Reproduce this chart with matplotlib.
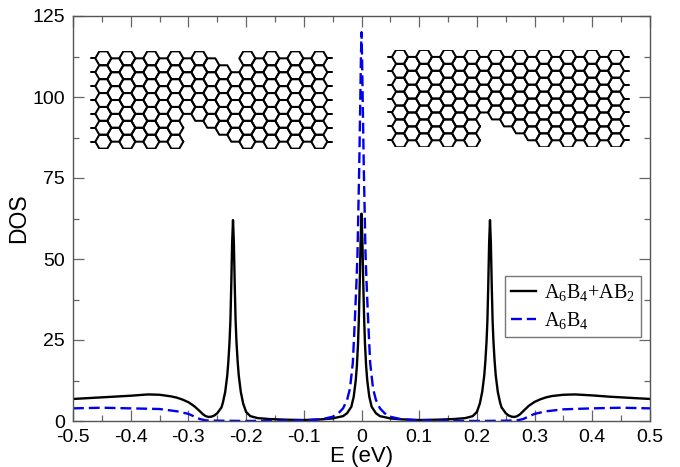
# DOS of the two ribbon systems, with the lattice sketches on top
import matplotlib
matplotlib.use('Agg')
import matplotlib.pyplot as plt
from matplotlib.collections import LineCollection
import numpy as np

plt.rcParams['font.family'] = ['Liberation Sans', 'DejaVu Sans']
plt.rcParams['mathtext.fontset'] = 'custom'
plt.rcParams['mathtext.rm'] = 'Liberation Serif'

E_full = [-0.5, -0.46, -0.43, -0.4, -0.37, -0.35, -0.33, -0.32, -0.31, -0.3, -0.29, -0.28,
          -0.275, -0.27, -0.265, -0.26, -0.255, -0.25, -0.2427, -0.2403, -0.2362, -0.2327,
          -0.2307, -0.2287, -0.2272, -0.2257, -0.2242, -0.2227,
          -0.2212, -0.2197, -0.2182, -0.2167, -0.2147, -0.2127, -0.2092, -0.2051, -0.2, -0.1927,
          -0.18, -0.16, -0.13, -0.1, -0.07, -0.05, -0.032, -0.025, -0.0176, -0.0135, -0.01,
          -0.008, -0.006, -0.0045, -0.003, -0.0015, 0.0,
          0.0015, 0.003, 0.0045, 0.006, 0.008, 0.01, 0.0135, 0.0176, 0.025, 0.032, 0.05,
          0.07, 0.1, 0.13, 0.16, 0.18, 0.1927, 0.2, 0.2051, 0.2092, 0.2127, 0.2147, 0.2167,
          0.2182, 0.2197, 0.2212, 0.2227,
          0.2242, 0.2257, 0.2272, 0.2287, 0.2307, 0.2327, 0.2362, 0.2403, 0.2427, 0.25,
          0.255, 0.26, 0.265, 0.27, 0.275, 0.28, 0.29, 0.3, 0.31, 0.32, 0.33, 0.35, 0.37,
          0.4, 0.43, 0.46, 0.5]
DOS_full = [6.8, 7.2, 7.5, 7.8, 8.2, 8.1, 7.6, 7.2, 6.6, 5.8, 4.6, 3.0,
            2.1, 1.5, 1.25, 1.35, 1.7, 2.4, 4.2, 5.6, 9.0, 14,
            18.5, 24.5, 31, 42, 55, 62,
            55, 42, 31, 24.5, 18.5, 14, 9.0, 5.4, 2.8, 1.5,
            0.9, 0.6, 0.4, 0.3, 0.5, 0.8, 1.5, 2.4, 4.4, 7.5, 12.5,
            17, 24, 32, 43, 56, 64,
            56, 43, 32, 24, 17, 12.5, 7.5, 4.4, 2.4, 1.5, 0.8,
            0.5, 0.3, 0.4, 0.6, 0.9, 1.5, 2.8, 5.4, 9.0, 14, 18.5, 24.5,
            31, 42, 55, 62,
            55, 42, 31, 24.5, 18.5, 14, 9.0, 5.6, 4.2, 2.4,
            1.7, 1.35, 1.25, 1.5, 2.1, 3.0, 4.7, 5.9, 6.7, 7.3, 7.7, 8.1, 8.2,
            7.9, 7.5, 7.2, 6.8]

E_bare = [-0.5, -0.45, -0.4, -0.35, -0.32, -0.3, -0.29, -0.28, -0.27, -0.25, -0.2,
          -0.15, -0.1, -0.07, -0.05, -0.04, -0.032, -0.025, -0.02, -0.015, -0.0113, -0.0087,
          -0.0069, -0.004, -0.002, -0.001, 0.0, 0.001, 0.002, 0.004, 0.0069, 0.0087, 0.0113,
          0.015, 0.02, 0.025, 0.032, 0.04, 0.05, 0.07, 0.1, 0.15, 0.2, 0.25, 0.27, 0.28, 0.29,
          0.3, 0.32, 0.35, 0.4, 0.45, 0.5]
DOS_bare = [3.9, 4.1, 3.9, 3.7, 3.0, 2.2, 1.4, 0.6, 0.2, 0.1, 0.0,
            0.1, 0.2, 0.5, 1.3, 2.4, 3.9, 6.5, 10, 18, 32, 43,
            52, 78, 100, 112, 120, 112, 100, 78, 52, 43, 32,
            18, 10, 6.5, 3.9, 2.4, 1.3, 0.5, 0.2, 0.1, 0.0, 0.1, 0.2, 0.6, 1.4,
            2.2, 3.0, 3.6, 3.9, 4.1, 3.9]

x_ticks = [-0.5, -0.4, -0.3, -0.2, -0.1, 0, 0.1, 0.2, 0.3, 0.4, 0.5]
x_labels = ['-0.5', '-0.4', '-0.3', '-0.2', '-0.1', '0', '0.1', '0.2', '0.3', '0.4', '0.5']
y_ticks = [0, 25, 50, 75, 100, 125]

# lattice sketches: first and last half-row of the hexagons in each column
left_first = [0, 1, 0, 1, 0, 1, 0, 1, 0, 1, 2, 3, 0, 1, 0, 1, 0, 1, 0]
left_last = [12, 11, 12, 11, 12, 11, 12, 7, 8, 9, 10, 11, 12, 11, 12, 11, 12, 11, 12]
right_first = [0, 1, 0, 1, 0, 1, 0, 1, 0, 1, 0, 1, 0, 1, 0, 1, 0, 1, 0]
right_last = [12, 11, 12, 11, 12, 11, 12, 7, 8, 9, 10, 11, 12, 11, 12, 11, 12, 11, 12]

W, H = 680, 467


def add_lattice(fig, first, last, left_px, top_px):
    # inset in pixel units, edge a = 8 px, rows 13.9 px apart
    a = 8.0
    h = 13.9
    ncol = len(first)
    box_w = a * 1.5 * (ncol - 1) + 2 * a + 12
    box_h = h * 7
    ins = fig.add_axes([(left_px - a - 5) / W, 1 - (top_px + box_h - h / 2) / H,
                        box_w / W, box_h / H])
    ins.set_xlim(-a - 5, box_w - a - 5)
    ins.set_ylim(box_h - h / 2, -h / 2)
    ins.axis('off')
    segs = []
    for k in range(ncol):
        cx = k * 1.5 * a
        for r in range(first[k], last[k] + 1, 2):
            cy = r * h / 2
            pts = [(cx + a * np.cos(np.radians(t)), cy + a * np.sin(np.radians(t)))
                   for t in range(0, 361, 60)]
            segs.append(pts)
    # short stubs at both ends of the ribbon
    for r in range(0, 13, 2):
        cy = r * h / 2
        segs.append([(-a - 4, cy), (-a, cy)])
        segs.append([((ncol - 1) * 1.5 * a + a, cy), ((ncol - 1) * 1.5 * a + a + 5, cy)])
    ins.add_collection(LineCollection(segs, colors='black', linewidths=1.45,
                                      capstyle='round', joinstyle='round'))


fig = plt.figure(figsize=(6.8, 4.67), dpi=100)
ax = fig.add_axes([73 / W, 1 - 421 / H, 577 / W, 405 / H])

ax.plot(E_full, DOS_full, color='black', lw=1.7, label=r'$\mathrm{A_6B_4{+}AB_2}$')
ax.plot(E_bare, DOS_bare, color='#0000ee', lw=1.7, dashes=(4.6, 2.1), label=r'$\mathrm{A_6B_4}$')

ax.set_xlim(-0.5, 0.5)
ax.set_ylim(0, 125)
ax.set_xticks(x_ticks)
ax.set_xticklabels(x_labels)
ax.set_yticks(y_ticks)
ax.set_xticks(np.arange(-0.45, 0.5, 0.1), minor=True)
ax.set_yticks(np.arange(12.5, 125, 25), minor=True)
ax.tick_params(which='major', direction='in', top=True, right=True, length=8, width=0.9,
               color='#666666', labelsize=14, pad=6)
ax.tick_params(which='minor', direction='in', top=True, right=True, length=4.5, width=0.9,
               color='#666666')
for s in ax.spines.values():
    s.set_color('#555555')
    s.set_linewidth(1.0)

ax.set_xlabel('E (eV)', fontsize=16, labelpad=0)
ax.set_ylabel('DOS', fontsize=16.5, labelpad=1.5)

leg = ax.legend(loc='upper left', bbox_to_anchor=((505 - 73) / 577, (421 - 276) / 405),
                borderaxespad=0, fontsize=14.5, frameon=True, fancybox=False, framealpha=1,
                edgecolor='#777777', handlelength=1.25, labelspacing=0.35, borderpad=0.3,
                handletextpad=0.4)
leg.get_frame().set_linewidth(1.0)

add_lattice(fig, left_first, left_last, 103.3, 58.3)
add_lattice(fig, right_first, right_last, 400, 56.9)

fig.savefig('out.png', dpi=100)
